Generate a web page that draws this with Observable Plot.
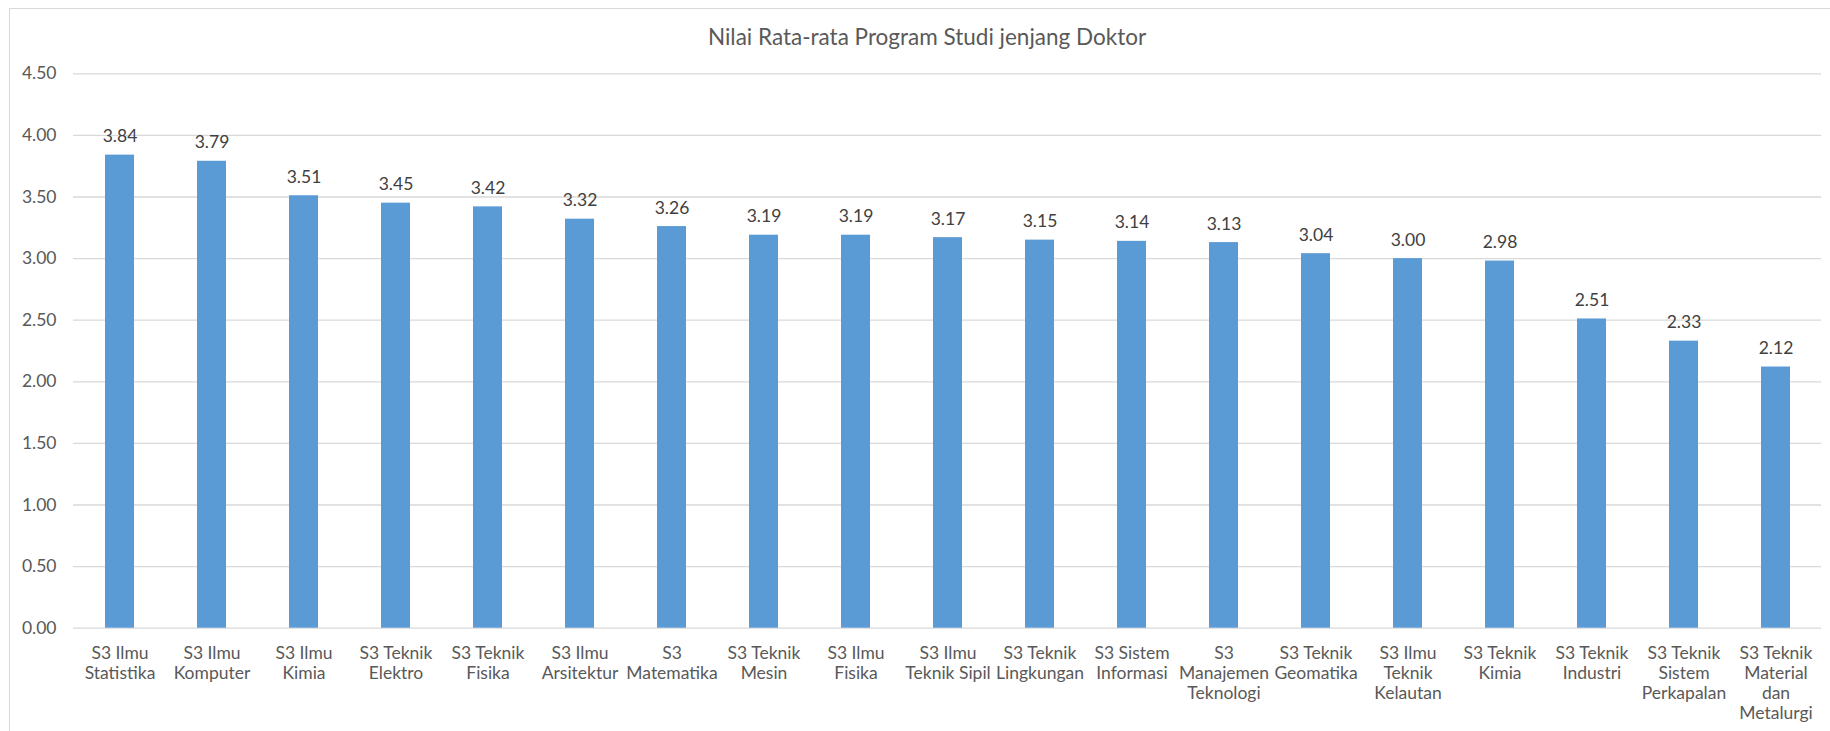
<!DOCTYPE html>
<html>
<head>
<meta charset="utf-8">
<script src="https://cdn.jsdelivr.net/npm/d3@7"></script>
<script src="https://cdn.jsdelivr.net/npm/@observablehq/plot@0.6"></script>
<style>
  html, body { margin: 0; padding: 0; background: #fff; overflow: hidden; }
  #wrap { position: relative; width: 1830px; height: 731px; }
  #frame { position: absolute; left: 9px; top: 8px; width: 1900px; height: 800px;
           border-left: 1.5px solid #d9d9d9; border-top: 1.5px solid #d9d9d9; box-sizing: border-box; }
  #title { height: 60px; box-sizing: border-box; padding-top: 22.8px; text-align: center;
           font-family: Lato, sans-serif; font-size: 22.5px; line-height: 27px; color: #595959;
           padding-left: 24px; }
  svg { display: block; }
</style>
</head>
<body>
<div id="wrap">
  <div id="frame"></div>
  <div id="title">Nilai Rata-rata Program Studi jenjang Doktor</div>
  <div id="chart"></div>
</div>
<script>
const categories = [
  "S3 Ilmu Statistika", "S3 Ilmu Komputer", "S3 Ilmu Kimia", "S3 Teknik Elektro",
  "S3 Teknik Fisika", "S3 Ilmu Arsitektur", "S3 Matematika", "S3 Teknik Mesin",
  "S3 Ilmu Fisika", "S3 Ilmu Teknik Sipil", "S3 Teknik Lingkungan", "S3 Sistem Informasi",
  "S3 Manajemen Teknologi", "S3 Teknik Geomatika", "S3 Ilmu Teknik Kelautan", "S3 Teknik Kimia",
  "S3 Teknik Industri", "S3 Teknik Sistem Perkapalan", "S3 Teknik Material dan Metalurgi"
];
const tickLabels = [
  "S3 Ilmu\nStatistika", "S3 Ilmu\nKomputer", "S3 Ilmu\nKimia", "S3 Teknik\nElektro",
  "S3 Teknik\nFisika", "S3 Ilmu\nArsitektur", "S3\nMatematika", "S3 Teknik\nMesin",
  "S3 Ilmu\nFisika", "S3 Ilmu\nTeknik Sipil", "S3 Teknik\nLingkungan", "S3 Sistem\nInformasi",
  "S3\nManajemen\nTeknologi", "S3 Teknik\nGeomatika", "S3 Ilmu\nTeknik\nKelautan", "S3 Teknik\nKimia",
  "S3 Teknik\nIndustri", "S3 Teknik\nSistem\nPerkapalan", "S3 Teknik\nMaterial\ndan\nMetalurgi"
];
const values = [3.84, 3.79, 3.51, 3.45, 3.42, 3.32, 3.26, 3.19, 3.19, 3.17, 3.15, 3.14, 3.13, 3.04, 3.00, 2.98, 2.51, 2.33, 2.12];
const yTicks = [0, 0.5, 1, 1.5, 2, 2.5, 3, 3.5, 4, 4.5];

const data = categories.map((c, i) => ({category: c, value: values[i]}));

const chart = Plot.plot({
  width: 1830,
  height: 671,
  marginTop: 13.3,
  marginBottom: 103.3,
  marginLeft: 73,
  marginRight: 9,
  style: {fontFamily: "Lato, sans-serif", fontSize: "17.5px", color: "#595959", background: "transparent"},
  x: {domain: categories, paddingInner: 0.69, paddingOuter: 0.345, label: null},
  y: {domain: [0, 4.5], label: null},
  marks: [
    Plot.gridY(yTicks, {stroke: "#d9d9d9", strokeOpacity: 1, strokeWidth: 1.3}),
    Plot.barY(data, {x: "category", y: "value", fill: "#5b9bd5"}),
    Plot.text(data, {x: "category", y: "value", text: d => d.value.toFixed(2),
      lineAnchor: "bottom", dy: -13, fill: "#404040", fontSize: 17.5}),
    Plot.axisY(yTicks, {tickSize: 0, tickPadding: 17, tickFormat: d => d.toFixed(2), label: null}),
    Plot.axisX({tickSize: 0, tickPadding: 17, lineHeight: 1.143, label: null,
      tickFormat: d => tickLabels[categories.indexOf(d)]})
  ]
});
document.getElementById("chart").appendChild(chart);
</script>
</body>
</html>
